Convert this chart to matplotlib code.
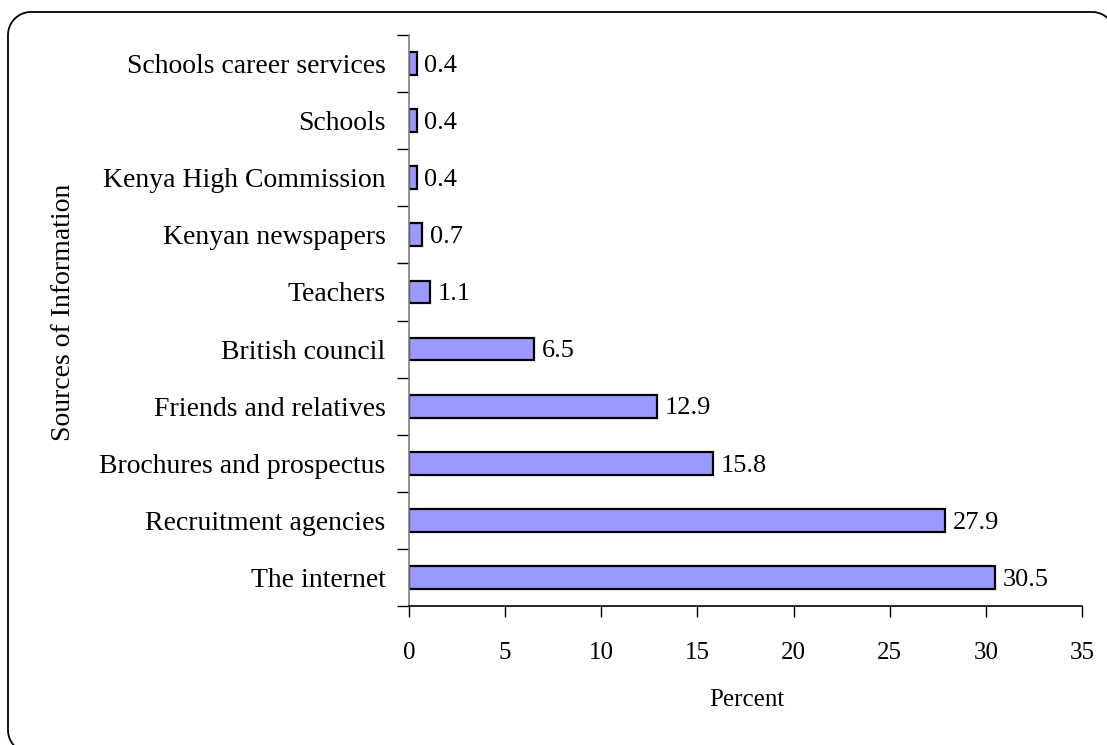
import matplotlib
matplotlib.use("Agg")
import numpy as np
import matplotlib.pyplot as plt
from matplotlib.patches import Polygon
from matplotlib.transforms import IdentityTransform

categories = ["The internet", "Recruitment agencies", "Brochures and prospectus",
              "Friends and relatives", "British council", "Teachers",
              "Kenyan newspapers", "Kenya High Commission", "Schools",
              "Schools career services"]
values = [30.5, 27.9, 15.8, 12.9, 6.5, 1.1, 0.7, 0.4, 0.4, 0.4]
xticks = [0, 5, 10, 15, 20, 25, 30, 35]

plt.rcParams['font.family'] = ['Liberation Serif', 'DejaVu Serif']
plt.rcParams['font.size'] = 18

W, H = 1107, 745
fig = plt.figure(figsize=(W/100, H/100), dpi=100)
ax = fig.add_axes([409/W, 1-606/H, (1082-409)/W, (606-35)/H])

ypos = list(range(len(categories)))
ax.barh(ypos, values, height=0.4, color="#9999FF", edgecolor="black", linewidth=1.6)
for y, v in zip(ypos, values):
    ax.text(v + 0.4, y - 0.04, f"{v}", va="center", ha="left", fontsize=19)

ax.set_xlim(0, 35)
ax.set_ylim(-0.5, len(categories) - 0.5)
ax.set_xticks(xticks)
ax.set_xticklabels([str(t) for t in xticks], fontsize=18)
ax.set_yticks(ypos)
ax.set_yticklabels(categories, fontsize=20)
ax.set_yticks([i - 0.5 for i in range(len(categories) + 1)], minor=True)
ax.tick_params(axis='y', which='major', length=0, pad=17)
ax.tick_params(axis='y', which='minor', length=9, width=1, direction='out', color='black')
ax.tick_params(axis='x', which='major', length=8, width=1, direction='out', pad=18)
for s in ['top', 'right']:
    ax.spines[s].set_visible(False)
ax.spines['left'].set_color('#808080')
ax.spines['left'].set_linewidth(1.2)
ax.spines['bottom'].set_linewidth(1.2)

fig.text(747/W, 1-700/H, "Percent", ha="center", va="center", fontsize=18)
fig.text(63/W, 1-312/H, "Sources of Information", ha="center", va="center",
         rotation=90, fontsize=20)

# rounded frame around the whole picture (pixel coordinates, y from top)
left, top, right, bottom, r = 8, 12, 1115, 753, 23
corners = [(right - r, top + r, -90, 0), (right - r, bottom - r, 0, 90),
           (left + r, bottom - r, 90, 180), (left + r, top + r, 180, 270)]
pts = []
for cx, cy, a0, a1 in corners:
    a = np.radians(np.linspace(a0, a1, 30))
    pts.extend(zip(cx + r*np.cos(a), cy + r*np.sin(a)))
pts = np.array(pts)
pts[:, 1] = H - pts[:, 1]
frame = Polygon(pts, closed=True, fill=False, edgecolor='black', linewidth=1.3,
                transform=IdentityTransform())
fig.patches.append(frame)

fig.savefig("out.png", dpi=100)
